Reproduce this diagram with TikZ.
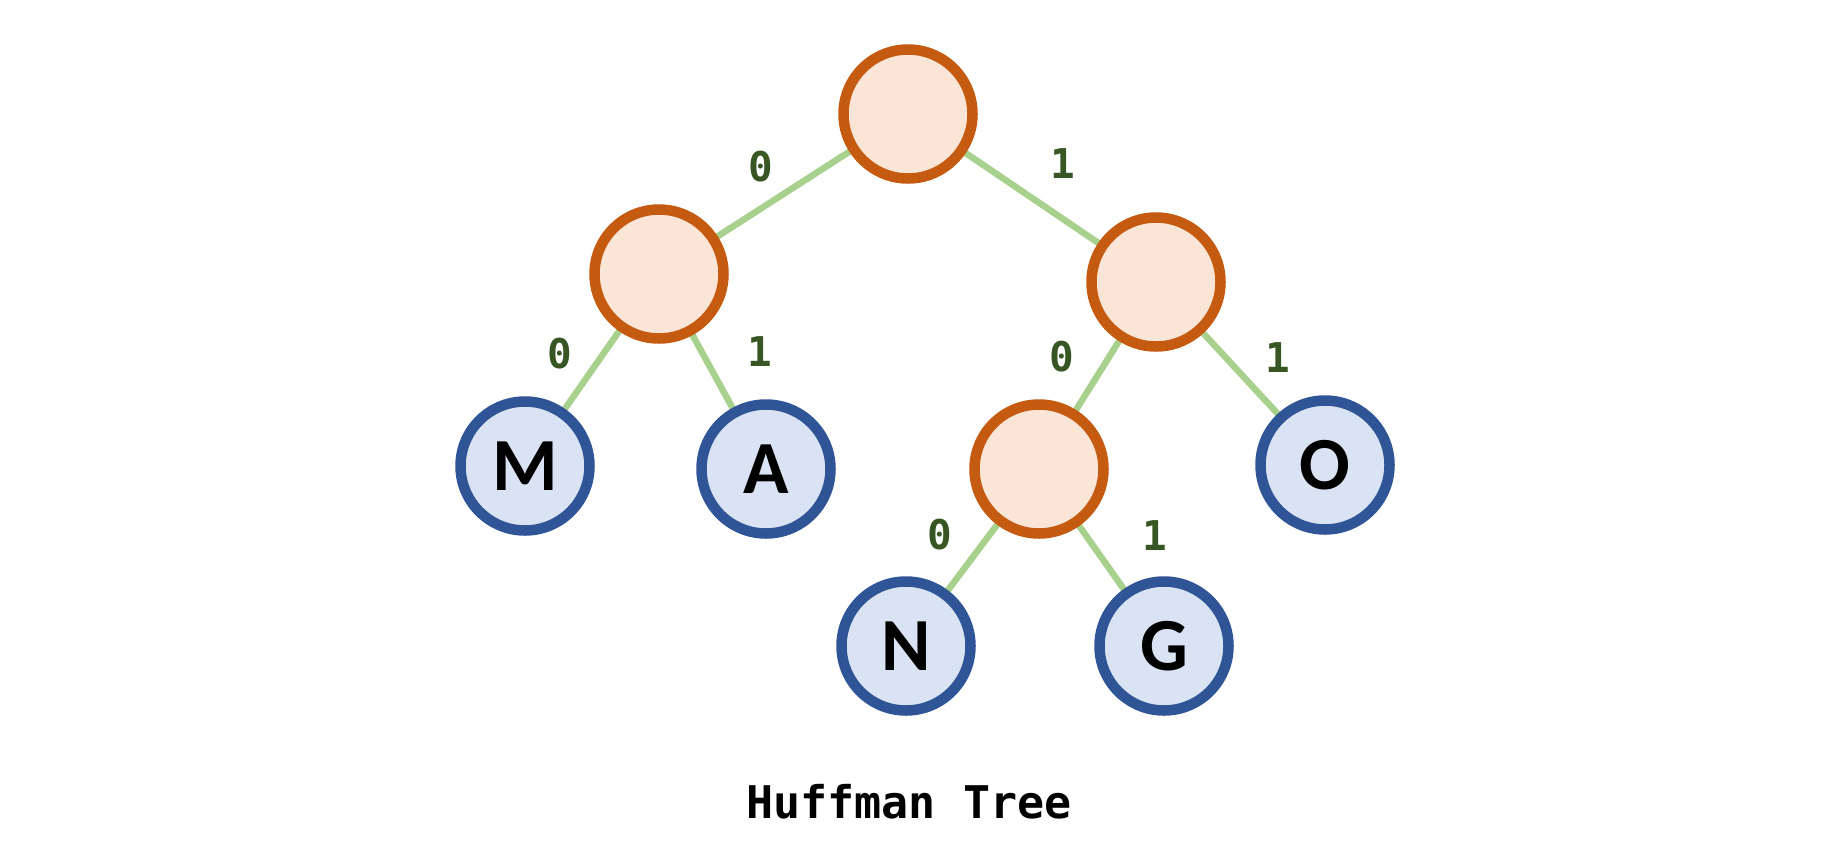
\documentclass[tikz,border=0pt]{standalone}
\usepackage{fontspec}
\setmainfont{Carlito}
\newfontfamily\codefont{DejaVu Sans Mono}
\usepackage{tikz}
\usetikzlibrary{positioning}
\definecolor{innerline}{HTML}{C55A11}
\definecolor{innerfill}{HTML}{FBE5D6}
\definecolor{leafline}{HTML}{2F5597}
\definecolor{leaffill}{HTML}{DAE3F3}
\definecolor{edgegreen}{HTML}{A9D18E}
\definecolor{bitgreen}{HTML}{375623}
\tikzset{
  inner/.style={circle, draw=innerline, fill=innerfill, line width=10.5pt, minimum size=129pt, inner sep=0pt},
  leaf/.style={circle, draw=leafline, fill=leaffill, line width=10.5pt, minimum size=129pt, inner sep=0pt, font=\fontsize{75}{75}\selectfont\bfseries},
  edge/.style={draw=edgegreen, line width=6.5pt},
  bit/.style={text=bitgreen, font=\codefont\fontsize{41}{41}\selectfont\bfseries}
}
\begin{document}
\begin{tikzpicture}[x=1pt,y=-1pt]
  \useasboundingbox (0,0) rectangle (1828,847);

  % edges first, nodes on top
  \coordinate (pr) at (908,114);
  \coordinate (pl) at (659,274);
  \coordinate (pq) at (1156,282);
  \coordinate (pm) at (1039,469);
  \coordinate (pM) at (525,466);
  \coordinate (pA) at (766,469);
  \coordinate (pO) at (1325,465);
  \coordinate (pN) at (906,646);
  \coordinate (pG) at (1164,646);
  \draw[edge] (pr) -- (pl);
  \draw[edge] (pr) -- (pq);
  \draw[edge] (pl) -- (pM);
  \draw[edge] (pl) -- (pA);
  \draw[edge] (pq) -- (pm);
  \draw[edge] (pq) -- (pO);
  \draw[edge] (pm) -- (pN);
  \draw[edge] (pm) -- (pG);

  \node[inner] (root) at (pr) {};
  \node[inner] (left) at (pl) {};
  \node[inner] (right) at (pq) {};
  \node[inner] (mid) at (pm) {};
  \node[leaf] (m) at (pM) {M};
  \node[leaf] (a) at (pA) {A};
  \node[leaf] (o) at (pO) {O};
  \node[leaf] (n) at (pN) {N};
  \node[leaf] (g) at (pG) {G};

  \node[bit] (b1) at (761,167) {0};
  \node[bit] (b2) at (1063,164) {1};
  \node[bit] (b3) at (560,354) {0};
  \node[bit] (b4) at (760,352) {1};
  \node[bit] (b5) at (1062,357) {0};
  \node[bit] (b6) at (1278,358) {1};
  \node[bit] (b7) at (940,535) {0};
  \node[bit] (b8) at (1155,536) {1};

  \node[font=\codefont\fontsize{45}{45}\selectfont\bfseries] (title) at (909,802) {Huffman Tree};
\end{tikzpicture}
\end{document}
